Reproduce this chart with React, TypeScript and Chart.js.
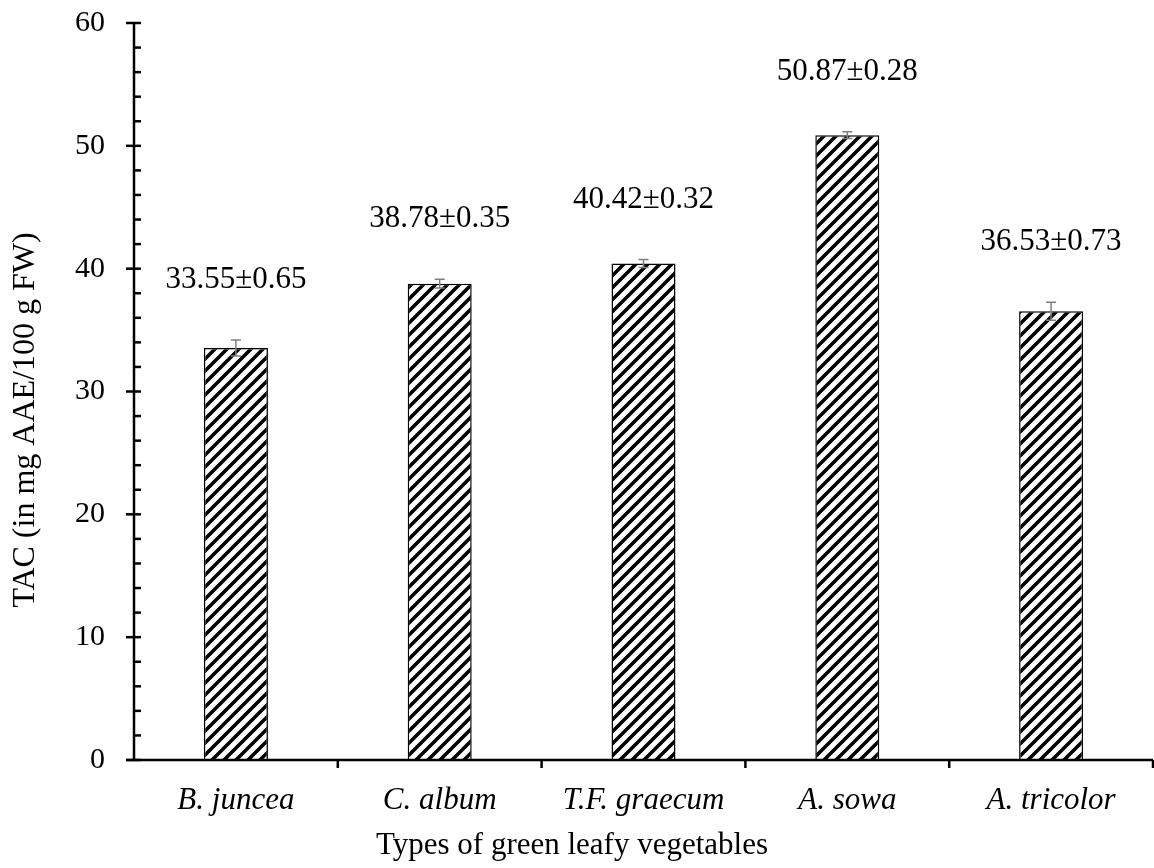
import React, { useEffect, useRef } from "react";
import { Chart, registerables } from "chart.js";

Chart.register(...registerables);

const categories = ["B. juncea", "C. album", "T.F. graecum", "A. sowa", "A. tricolor"];
const values = [33.55, 38.78, 40.42, 50.87, 36.53];
const errors = [0.65, 0.35, 0.32, 0.28, 0.73];
const labels = ["33.55±0.65", "38.78±0.35", "40.42±0.32", "50.87±0.28", "36.53±0.73"];
const yTicks = [0, 10, 20, 30, 40, 50, 60];
const xTitle = "Types of green leafy vegetables";
const yTitle = "TAC (in mg AAE/100 g FW)";

const FONT = "'Liberation Serif', 'Times New Roman', serif";

function makePattern(): CanvasPattern | string {
  const c = document.createElement("canvas");
  c.width = 12;
  c.height = 12;
  const g = c.getContext("2d");
  if (!g) return "#000";
  g.fillStyle = "#fff";
  g.fillRect(0, 0, 12, 12);
  g.strokeStyle = "#000";
  g.lineWidth = 3.6;
  g.lineCap = "square";
  const segs = [
    [-6, 6, 6, -6],
    [0, 12, 12, 0],
    [6, 18, 18, 6],
  ];
  for (const s of segs) {
    g.beginPath();
    g.moveTo(s[0], s[1]);
    g.lineTo(s[2], s[3]);
    g.stroke();
  }
  return g.createPattern(c, "repeat") || "#000";
}

const decorPlugin = {
  id: "decor",
  afterDatasetsDraw(chart: any) {
    const { ctx, scales } = chart;
    const x = scales.x;
    const y = scales.y;
    const meta = chart.getDatasetMeta(0);
    ctx.save();
    // error bars
    ctx.strokeStyle = "#7f7f7f";
    ctx.lineWidth = 1.5;
    meta.data.forEach((bar: any, i: number) => {
      const cx = bar.x;
      const top = y.getPixelForValue(values[i] + errors[i]);
      const bot = y.getPixelForValue(values[i] - errors[i]);
      ctx.beginPath();
      ctx.moveTo(cx, top);
      ctx.lineTo(cx, bot);
      ctx.moveTo(cx - 5, top);
      ctx.lineTo(cx + 5, top);
      ctx.moveTo(cx - 5, bot);
      ctx.lineTo(cx + 5, bot);
      ctx.stroke();
    });
    // value labels
    ctx.fillStyle = "#000";
    ctx.font = `31px ${FONT}`;
    ctx.textAlign = "center";
    ctx.textBaseline = "middle";
    meta.data.forEach((bar: any, i: number) => {
      const top = y.getPixelForValue(values[i] + errors[i]);
      ctx.fillText(labels[i], bar.x, top - 60);
    });
    // axis titles
    ctx.font = `31px ${FONT}`;
    ctx.fillText(xTitle, 572, 846);
    ctx.save();
    ctx.translate(26, 420);
    ctx.rotate(-Math.PI / 2);
    ctx.font = `32px ${FONT}`;
    ctx.fillText(yTitle, 0, 0);
    ctx.restore();
    // axes
    ctx.strokeStyle = "#000";
    ctx.lineWidth = 2.5;
    const ax = x.left;
    const ay = y.bottom;
    ctx.beginPath();
    ctx.moveTo(ax, y.top);
    ctx.lineTo(ax, ay);
    ctx.stroke();
    ctx.beginPath();
    ctx.moveTo(ax - 8, ay);
    ctx.lineTo(x.right, ay);
    ctx.stroke();
    // y ticks
    for (let v = 0; v <= 60; v += 2) {
      const py = y.getPixelForValue(v);
      ctx.beginPath();
      if (v % 10 === 0) {
        ctx.moveTo(ax - 8, py);
        ctx.lineTo(ax + 7, py);
      } else {
        ctx.moveTo(ax, py);
        ctx.lineTo(ax + 7, py);
      }
      ctx.stroke();
    }
    // x boundary ticks
    const n = categories.length;
    for (let i = 1; i <= n; i++) {
      const px = x.left + ((x.right - x.left) * i) / n;
      ctx.beginPath();
      ctx.moveTo(px, ay);
      ctx.lineTo(px, ay + 8);
      ctx.stroke();
    }
    ctx.restore();
  },
};

export default function App() {
  const ref = useRef<HTMLCanvasElement | null>(null);
  useEffect(() => {
    if (!ref.current) return;
    const pattern = makePattern();
    const chart = new Chart(ref.current, {
      type: "bar",
      data: {
        labels: categories,
        datasets: [
          {
            data: values,
            backgroundColor: pattern as any,
            borderColor: "#000",
            borderWidth: 1.5,
            categoryPercentage: 1,
            barPercentage: 0.314,
          },
        ],
      },
      options: {
        animation: false,
        responsive: false,
        devicePixelRatio: 1,
        layout: { padding: { top: 23, right: 1, bottom: 0, left: 0 } },
        plugins: {
          legend: { display: false },
          tooltip: { enabled: false },
        },
        scales: {
          x: {
            grid: { display: false, drawTicks: false },
            border: { display: false },
            ticks: {
              color: "#000",
              padding: 22,
              maxRotation: 0,
              font: { family: FONT, size: 31, style: "italic" },
            },
            afterFit(scale: any) {
              scale.height = 108;
              scale.paddingLeft = 0;
              scale.paddingRight = 0;
            },
          },
          y: {
            min: 0,
            max: 60,
            afterBuildTicks(scale: any) {
              scale.ticks = yTicks.map((v) => ({ value: v }));
            },
            grid: { display: false, drawTicks: false },
            border: { display: false },
            ticks: {
              color: "#000",
              padding: 29,
              font: { family: FONT, size: 30 },
            },
            afterFit(scale: any) {
              scale.width = 134;
              scale.paddingTop = 0;
              scale.paddingBottom = 0;
            },
          },
        },
      },
      plugins: [decorPlugin],
    });
    return () => chart.destroy();
  }, []);
  return (
    <div style={{ position: "fixed", left: 0, top: 0, width: 1154, height: 868, background: "#fff" }}>
      <canvas ref={ref} width={1154} height={868} style={{ width: 1154, height: 868 }} />
    </div>
  );
}
